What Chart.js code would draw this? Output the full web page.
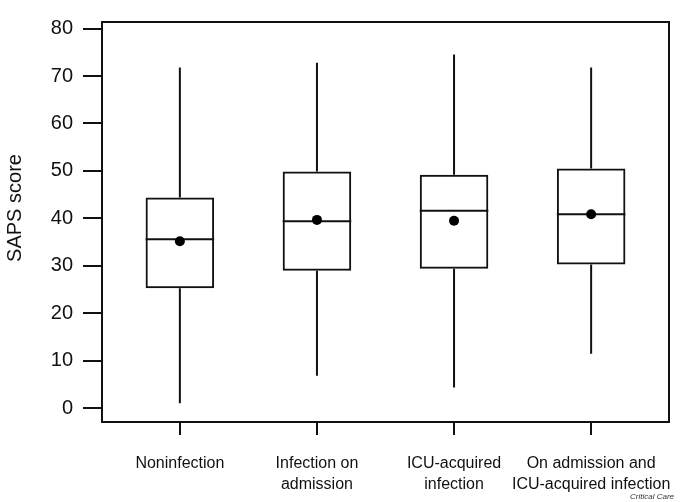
<!DOCTYPE html>
<html>
<head>
<meta charset="utf-8">
<script src="https://cdn.jsdelivr.net/npm/chart.js@4"></script>
<style>
  body { margin: 0; background: #fff; }
  #wrap { position: relative; width: 685px; height: 502px; }
</style>
</head>
<body>
<div id="wrap"><canvas id="myChart"></canvas></div>
<script>
// groups along the x axis (1..4) and their split tick labels
const groups = ['Noninfection', 'Infection on admission', 'ICU-acquired infection', 'On admission and ICU-acquired infection'];
const groupLabels = [['Noninfection'], ['Infection on', 'admission'], ['ICU-acquired', 'infection'], ['On admission and', 'ICU-acquired infection']];

// box plot statistics (SAPS score)
const mins    = [1.1, 6.9, 4.4, 11.5];
const q1      = [25.3, 29.0, 29.4, 30.3];
const medians = [35.6, 39.4, 41.6, 40.9];
const q3      = [44.4, 49.9, 49.2, 50.5];
const maxs    = [71.8, 72.8, 74.5, 71.8];
const means   = [35.2, 39.7, 39.5, 40.9];

const yTicks = [0, 10, 20, 30, 40, 50, 60, 70, 80];

const FONT = 'Liberation Sans, Arial, Helvetica, sans-serif';

/* ======================================
        WHISKERS + MEDIANS + FRAME
========================================*/
const boxExtras = {
  id: 'boxExtras',
  beforeDatasetsDraw(chart) {
    const ctx = chart.ctx;
    const xs = chart.scales.x, ys = chart.scales.y;
    const half = (xs.getPixelForValue(1.25) - xs.getPixelForValue(1));
    ctx.save();
    ctx.strokeStyle = '#111';
    ctx.lineWidth = 2;
    groups.forEach((g, i) => {
      const px = xs.getPixelForValue(i + 1);
      ctx.beginPath();
      ctx.moveTo(px, ys.getPixelForValue(maxs[i]));
      ctx.lineTo(px, ys.getPixelForValue(q3[i]));
      ctx.moveTo(px, ys.getPixelForValue(q1[i]));
      ctx.lineTo(px, ys.getPixelForValue(mins[i]));
      ctx.moveTo(px - half, ys.getPixelForValue(medians[i]));
      ctx.lineTo(px + half, ys.getPixelForValue(medians[i]));
      ctx.stroke();
    });
    ctx.restore();
  },
  afterDraw(chart) {
    const ctx = chart.ctx;
    const a = chart.chartArea;
    ctx.save();
    ctx.strokeStyle = '#111';
    ctx.lineWidth = 2;
    ctx.strokeRect(a.left, a.top, a.right - a.left, a.bottom - a.top);
    // y axis title, sits a bit above the middle like the original
    ctx.fillStyle = '#111';
    ctx.font = '20px ' + FONT;
    ctx.textAlign = 'center';
    ctx.textBaseline = 'middle';
    ctx.translate(15, 208);
    ctx.rotate(-Math.PI / 2);
    ctx.fillText('SAPS score', 0, 0);
    ctx.restore();
    // source credit, bottom right
    ctx.save();
    ctx.fillStyle = '#333';
    ctx.font = 'italic 8px ' + FONT;
    ctx.textAlign = 'right';
    ctx.textBaseline = 'alphabetic';
    ctx.fillText('Critical Care', 674, 499);
    ctx.restore();
  }
};

let myChart = document.getElementById('myChart').getContext('2d');
let boxChart = new Chart(myChart, {
  type: 'bar',
  data: {
    datasets: [{
      type: 'scatter',
      label: 'Mean',
      data: means.map((m, i) => ({ x: i + 1, y: m })),
      pointRadius: 5,
      pointBackgroundColor: '#000',
      pointBorderWidth: 0,
      order: 0
    }, {
      type: 'bar',
      label: 'IQR',
      data: q1.map((v, i) => ({ x: i + 1, y: [v, q3[i]] })),
      backgroundColor: 'rgba(255,255,255,0)',
      borderColor: '#111',
      borderWidth: 2,
      borderSkipped: false,
      categoryPercentage: 1,
      barPercentage: 0.5,
      order: 1
    }]
  },
  options: {
    responsive: true,
    maintainAspectRatio: false,
    animation: false,
    layout: { padding: { top: 9, right: 16, left: 0, bottom: 0 } },
    plugins: {
      legend: { display: false },
      tooltip: { enabled: false }
    },
    scales: {
      x: {
        type: 'linear',
        offset: false,
        min: 0.432,
        max: 4.568,
        afterFit: (scale) => { scale.height = 80; scale.paddingLeft = 0; scale.paddingRight = 0; },
        afterBuildTicks: (scale) => { scale.ticks = groups.map((g, i) => ({ value: i + 1 })); },
        grid: { offset: false, drawOnChartArea: false, drawTicks: true, tickLength: 13, color: '#111', lineWidth: 2 },
        border: { display: false },
        ticks: {
          color: '#111',
          padding: 18,
          maxRotation: 0,
          autoSkip: false,
          font: { family: FONT, size: 16, lineHeight: 1.3 },
          callback: (v) => groupLabels[Math.round(v) - 1]
        }
      },
      y: {
        type: 'linear',
        min: -2.86,
        max: 81.37,
        afterFit: (scale) => { scale.width = 102; },
        afterBuildTicks: (scale) => { scale.ticks = yTicks.map(v => ({ value: v })); },
        grid: { drawOnChartArea: false, drawTicks: true, tickLength: 19, color: '#111', lineWidth: 2 },
        border: { display: false },
        ticks: {
          color: '#111',
          padding: 10,
          font: { family: FONT, size: 20 }
        }
      }
    }
  },
  plugins: [boxExtras]
});
</script>
</body>
</html>
